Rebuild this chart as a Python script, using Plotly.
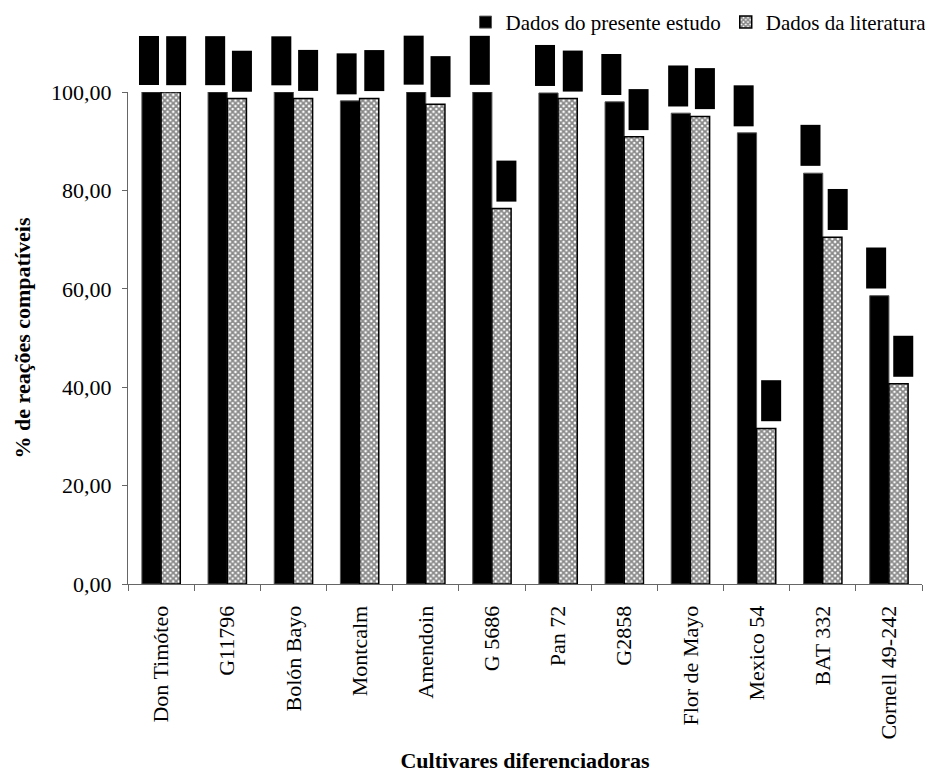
import plotly.graph_objects as go

categories = ["Don Timóteo", "G11796", "Bolón Bayo", "Montcalm", "Amendoin", "G 5686",
              "Pan 72", "G2858", "Flor de Mayo", "Mexico 54", "BAT 332", "Cornell 49-242"]
presente = [100.0, 100.0, 100.0, 98.2, 100.0, 100.0, 99.8, 98.0, 95.7, 91.7, 83.5, 58.6]
literatura = [100.0, 98.7, 98.7, 98.7, 97.5, 76.3, 98.7, 90.9, 95.0, 31.6, 70.5, 40.7]
y_ticks = [0, 20, 40, 60, 80, 100]

FONT = "Liberation Serif"
BARGAP = 0.42
half = (1 - BARGAP) / 4.0

def fmt(v):
    return f"{v:.2f}".replace(".", ",")

fig = go.Figure()
fig.add_trace(go.Bar(
    name="Dados do presente estudo", x=categories, y=presente,
    marker=dict(color="black", line=dict(color="#555555", width=1)),
    cliponaxis=False,
))
fig.add_trace(go.Bar(
    name="Dados da literatura", x=categories, y=literatura,
    marker=dict(color="white", line=dict(color="black", width=1.5),
                pattern=dict(shape="x", size=4, solidity=0.7,
                             fgcolor="#111111", bgcolor="white", fillmode="overlay")),
    cliponaxis=False,
))

annotations = []
for series, sign, xs in ((presente, -1, -3), (literatura, 1, 5)):
    for i, v in enumerate(series):
        t = fmt(v)
        annotations.append(dict(
            x=i + sign * half, y=v, xref="x", yref="y", text=t,
            textangle=-90, showarrow=False, xanchor="center", yanchor="bottom",
            yshift=7, xshift=xs,
            font=dict(family=FONT, size=15, color="black"),
            bgcolor="black", borderpad=0, borderwidth=0,
            width=len(t) * 8 + 1, height=20,
        ))

# the page body adds an 8px offset, so the figure is 8px smaller than the window
fig.update_layout(
    width=925, height=765,
    margin=dict(l=120, r=11, t=84, b=189, autoexpand=False),
    paper_bgcolor="white", plot_bgcolor="white",
    barmode="group", bargap=BARGAP, bargroupgap=0,
    separators=",.",
    font=dict(family=FONT, color="black"),
    showlegend=True,
    legend=dict(orientation="h", x=1.012, xanchor="right", y=1.183, yanchor="top",
                font=dict(family=FONT, size=21, color="black"),
                bgcolor="rgba(0,0,0,0)", itemwidth=30, tracegroupgap=0),
    annotations=annotations,
    xaxis=dict(
        type="category", tickson="boundaries", ticks="outside", ticklen=6,
        tickcolor="#666666", showline=True, linecolor="#666666", linewidth=1,
        tickangle=-90, tickfont=dict(family=FONT, size=22, color="black"),
        ticklabelstandoff=12, showgrid=False, zeroline=False, automargin=False,
        title=dict(text="<b>Cultivares diferenciadoras</b>",
                   font=dict(family=FONT, size=22, color="black"), standoff=20),
    ),
    yaxis=dict(
        range=[0, 100], tickvals=y_ticks, tickformat=".2f", ticks="outside", ticklen=5,
        tickcolor="#666666", showline=True, linecolor="#666666", linewidth=1,
        tickfont=dict(family=FONT, size=22, color="black"), ticklabelstandoff=6,
        showgrid=False, zeroline=False, automargin=False,
        title=dict(text="<b>% de reações compatíveis</b>",
                   font=dict(family=FONT, size=22, color="black"), standoff=14),
    ),
)

fig.write_html("out.html")
